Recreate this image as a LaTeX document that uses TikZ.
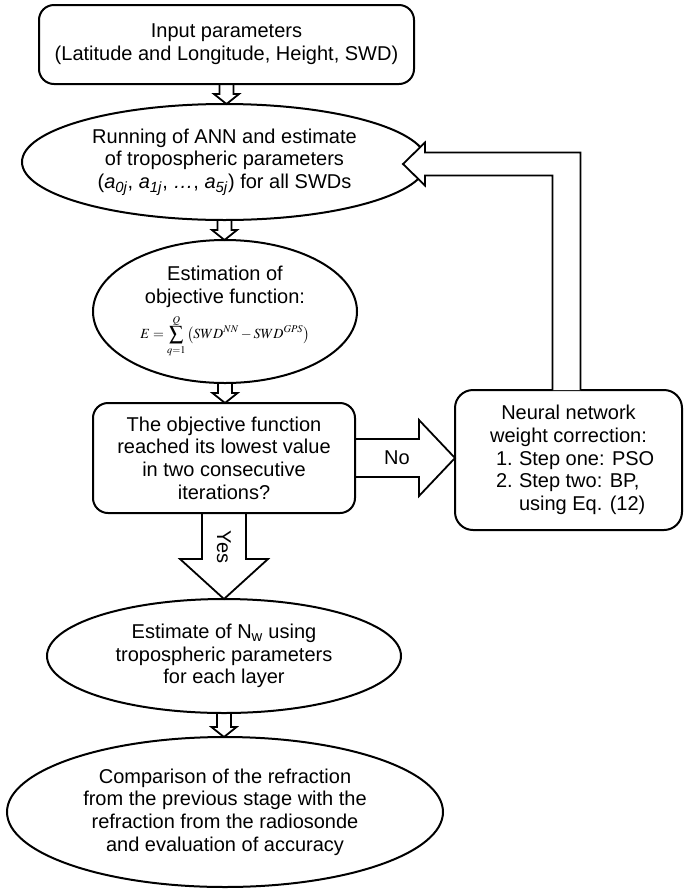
\documentclass[tikz,border=0pt]{standalone}
\usepackage{amsmath}
\usepackage{mathptmx}
\usepackage[no-math]{fontspec}
\setmainfont{Liberation Sans}
\usetikzlibrary{shapes.geometric,calc}

\tikzset{
  stage/.style={draw, line width=2pt, rounded corners=15pt, inner sep=0pt, outer sep=0pt, align=center},
  oval/.style={draw, ellipse, line width=2pt, inner sep=0pt, outer sep=0pt, align=center},
  blockarrow/.style={draw, line width=1.8pt, line join=miter}
}
\newcommand{\downblock}[5]{%
  \draw[blockarrow] ($(#1.south)+(-#3,0)$) -- ($(#1.south |- #2.north)+(-#3,-#5)$)
    -- ($(#1.south |- #2.north)+(-#4,-#5)$) -- (#1.south |- #2.north)
    -- ($(#1.south |- #2.north)+(#4,-#5)$) -- ($(#1.south |- #2.north)+(#3,-#5)$)
    -- ($(#1.south)+(#3,0)$);}
\newcommand{\stepline}[2]{\makebox[145pt][l]{\makebox[23pt][l]{#1}#2}}

\begin{document}
\begin{tikzpicture}[x=1pt,y=-1pt,font=\fontsize{20}{22.7}\selectfont]
\useasboundingbox (0,0) rectangle (685,895);

\node[stage, minimum width=375pt, minimum height=79pt] (input) at (226.5,44.5)
  {Input parameters\\(Latitude and Longitude, Height, SWD)};
\node[oval, minimum width=405pt, minimum height=116pt] (ann) at (224.5,162)
  {Running of ANN and estimate\\of tropospheric parameters\\(\textit{a}\textsubscript{\textit{0j}}, \textit{a}\textsubscript{\textit{1j}}, \textit{\ldots}, \textit{a}\textsubscript{\textit{5j}}) for all SWDs};
\node[oval, minimum width=264pt, minimum height=143pt] (objective) at (225,311.5)
  {Estimation of\\objective function:\\[6pt]{\fontsize{14}{16}\selectfont$\displaystyle E=\sum_{q=1}^{Q}\left(SWD^{NN}-SWD^{GPS}\right)$}};
\node[stage, minimum width=262pt, minimum height=110pt] (check) at (224,458)
  {The objective function\\reached its lowest value\\in two consecutive\\iterations?};
\node[stage, rounded corners=18pt, minimum width=227pt, minimum height=140pt] (correction) at (568.5,460)
  {Neural network\\weight correction:\\\stepline{1.}{Step one: PSO}\\\stepline{2.}{Step two: BP,}\\\stepline{}{using Eq. (12)}};
\node[oval, minimum width=354pt, minimum height=114pt] (refractivity) at (224,656)
  {Estimate of N\textsubscript{w} using\\tropospheric parameters\\for each layer};
\node[oval, minimum width=436pt, minimum height=150pt] (comparison) at (225,812)
  {Comparison of the refraction\\from the previous stage with the\\refraction from the radiosonde\\and evaluation of accuracy};

\downblock{input}{ann}{7}{12.5}{10}
\downblock{ann}{objective}{7}{12.5}{10}
\downblock{objective}{check}{7}{12.5}{10}
\downblock{refractivity}{comparison}{7}{12.5}{10}
\downblock{check}{refractivity}{22}{44}{40}
\node[rotate=-90] (yes) at ($(check.south)+(0,34)$) {Yes};

\draw[blockarrow] ($(check.east)+(0,-19)$) -- ($(correction.west |- check.east)+(-36,-19)$)
  -- ++(0,-19) -- (correction.west |- check.east) -- ++(-36,38) -- ++(0,-19)
  -- ($(check.east)+(0,19)$);
\node (no) at ($(check.east)+(42,0)$) {No};

\coordinate (feedtip) at ($(ann.east)+(-24,2)$);
\draw[blockarrow, fill=white] ($(correction.north)+(-16,0)$) -- ($(correction.north |- feedtip)+(-16,11.5)$)
  -- ($(feedtip)+(22,11.5)$) -- ($(feedtip)+(22,21.5)$) -- (feedtip)
  -- ($(feedtip)+(22,-21.5)$) -- ($(feedtip)+(22,-11.5)$)
  -- ($(correction.north |- feedtip)+(12,-11.5)$) -- ($(correction.north)+(12,0)$);
\end{tikzpicture}
\end{document}
